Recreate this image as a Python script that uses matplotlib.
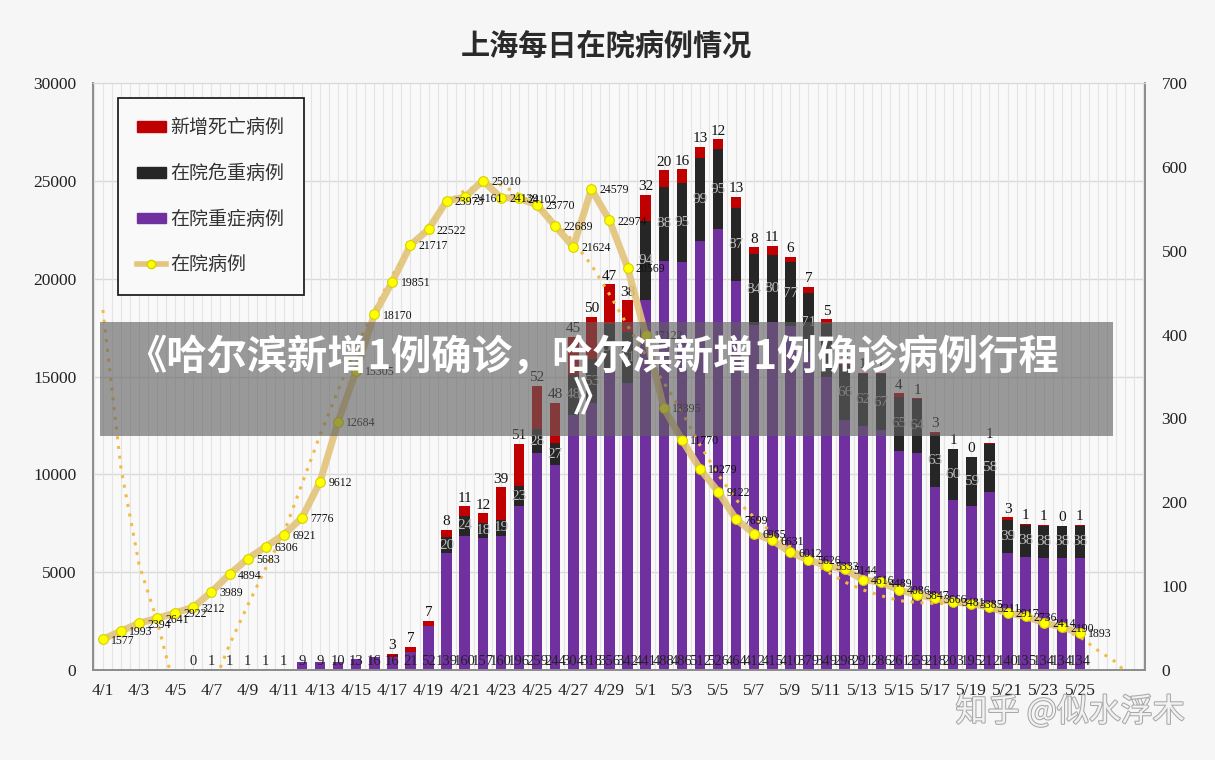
import numpy as np
import matplotlib.pyplot as plt
import matplotlib.patheffects as pe
from matplotlib.patches import Patch, Rectangle
from matplotlib.lines import Line2D

plt.rcParams['font.family'] = ['Noto Sans CJK SC', 'DejaVu Sans']
SERIF = 'Liberation Serif'
nan = np.nan

dates = [f"4/{d}" for d in range(1, 31)] + [f"5/{d}" for d in range(1, 26)]

# 在院病例 (left axis)
inpatients = [1577, 1993, 2394, 2641, 2922, 3212, 3989, 4894, 5683, 6306,
              6921, 7776, 9612, 12684, 15305, 18170, 19851, 21717, 22522, 23973,
              24161, 25010, 24139, 24102, 23770, 22689, 21624, 24579, 22974, 20569,
              17122, 13395, 11770, 10279, 9122, 7699, 6965, 6631, 6012, 5626,
              5333, 5144, 4616, 4489, 4086, 3847, 3666, 3481, 3385, 3211,
              2917, 2736, 2414, 2190, 1893]

# dotted trend line (4/1 .. 5/28)
trend = [18400, 10300, 5400, 2500, -1100, -1800, -1000, 1300, 3300, 5200,
         7000, 9500, 12000, 14300, 16500, 18400, 20200, 21600, 22700, 23900,
         24500, 24800, 24800, 24300, 23700, 22900, 21900, 20700, 19200, 17600,
         16100, 14700, 13200, 11500, 10000, 8700, 7800, 7000, 6300, 5600,
         5050, 4500, 4100, 3800, 3550, 3450, 3400, 3400, 3350, 3250,
         3100, 2850, 2500, 2050, 1700, 1000, 400, -600]

# 在院重症病例 (right axis)
severe = [nan] * 5 + [0, 1, 1, 1, 1, 1, 9, 9, 10, 13, 16, 16, 21, 52,
                      139, 160, 157, 160, 196, 259, 244, 304, 318, 356, 342,
                      441, 488, 486, 512, 526, 464, 412, 415, 410, 379,
                      349, 298, 291, 286, 261, 259, 218, 203, 195, 212,
                      140, 135, 134, 134, 134]
# 在院危重病例
critical = [nan] * 5 + [0] * 14 + [20, 24, 18, 19, 23, 28, 27, 48, 53, 57, 61,
                                    94, 88, 95, 99, 95, 87, 84, 80, 77, 71,
                                    64, 66, 62, 67, 65, 64, 63, 60, 59, 58,
                                    39, 38, 38, 38, 38]
# 新增死亡病例
deaths = [nan] * 16 + [3, 7, 7,
                       8, 11, 12, 39, 51, 52, 48, 45, 50, 47, 38,
                       32, 20, 16, 13, 12, 13, 8, 11, 6, 7,
                       5, 2, 1, 1, 4, 1, 3, 1, 0, 1,
                       3, 1, 1, 0, 1]

PURPLE = '#7030a0'
DARK = '#262626'
RED = '#c00000'
GOLD = '#e2c47a'

x = np.arange(len(dates))
sev = np.array(severe, dtype=float)
cri = np.array(critical, dtype=float)
dth = np.array(deaths, dtype=float)
sev0 = np.nan_to_num(sev)
cri0 = np.nan_to_num(cri)
dth0 = np.nan_to_num(dth)

fig = plt.figure(figsize=(12.15, 7.6), dpi=100, facecolor='#f6f6f6')
ax = fig.add_axes([0.0765, 0.1184, 0.8659, 0.7724], facecolor='#f9f9f9')
ax2 = ax.twinx()

# bars on the right-hand scale
ax.set_ylim(0, 700)
ax.set_xlim(-0.55, 57.6)
for k in range(1, 6):
    ax.axhline(700 * k / 6, color='#d9d9d9', lw=1, zorder=0)
for v in np.arange(-0.5, 57.6, 0.5):
    ax.axvline(v, color='#e4e4e4', lw=0.8, zorder=0)

w = 0.58
has = ~np.isnan(sev)
ax.bar(x[has], sev0[has], w, color=PURPLE, zorder=2)
ax.bar(x[has], cri0[has], w, bottom=sev0[has], color=DARK, zorder=2)
hd = ~np.isnan(dth)
ax.bar(x[hd], dth0[hd], w, bottom=(sev0 + cri0)[hd], color=RED, zorder=2)

for i in x:
    if not np.isnan(sev[i]):
        ax.text(i, 3, f"{int(sev[i])}", ha='center', va='bottom', fontsize=10.5,
                family=SERIF, color='#222222', zorder=4)
    if not np.isnan(cri[i]) and cri[i] >= 15:
        ax.text(i, sev0[i] + cri[i] / 2, f"{int(cri[i])}", ha='center', va='center',
                fontsize=11, family=SERIF, color='#bdbdbd', zorder=4)
    if not np.isnan(dth[i]):
        ax.text(i, sev0[i] + cri0[i] + dth[i] + 2, f"{int(dth[i])}", ha='center',
                va='bottom', fontsize=11, family=SERIF, color='#111111', zorder=4)

ax.yaxis.tick_right()
ax.set_yticks(range(0, 701, 100))
ax.tick_params(axis='y', length=0, pad=12, labelsize=12.5, labelcolor='#222222')
ax.set_xticks(x[::2])
ax.set_xticklabels(dates[::2])
ax.tick_params(axis='x', length=0, pad=9, labelsize=12.5, labelcolor='#222222')
for lab in ax.get_xticklabels() + ax.get_yticklabels():
    lab.set_family(SERIF)

# in-hospital line on the left-hand scale
ax2.set_ylim(0, 30000)
ax2.yaxis.tick_left()
ax2.set_yticks(range(0, 30001, 5000))
ax2.tick_params(axis='y', length=0, pad=12, labelsize=12.5, labelcolor='#222222')
for lab in ax2.get_yticklabels():
    lab.set_family(SERIF)

ax2.plot(np.arange(len(trend)), trend, ls=(0, (1, 2.2)), color='#f2bb45', lw=2.2, zorder=3)
ax2.plot(x, inpatients, color=GOLD, lw=5, alpha=0.9, solid_capstyle='round', zorder=4)
ax2.plot(x, inpatients, ls='none', marker='o', ms=7, mfc='#ffff00', mec='#d6d000',
         mew=0.8, zorder=5)
for i, v in zip(x, inpatients):
    ax2.annotate(f"{v}", (i, v), xytext=(6, -1), textcoords='offset points',
                 ha='left', va='center', fontsize=8.5, family=SERIF, color='#111111',
                 zorder=6)

for a in (ax, ax2):
    for s in ('left', 'right', 'bottom'):
        a.spines[s].set_color('#8c8c8c')
        a.spines[s].set_linewidth(1.2)
    a.spines['top'].set_color('#d9d9d9')

handles = [Patch(color=RED), Patch(color=DARK), Patch(color=PURPLE),
           Line2D([0], [0], color=GOLD, lw=4, marker='o', ms=6, mfc='#ffff00', mec='#d6d000')]
labels = ['新增死亡病例', '在院危重病例', '在院重症病例', '在院病例']
leg = ax2.legend(handles, labels, loc='upper left', bbox_to_anchor=(0.024, 0.974),
                 fontsize=13.7, frameon=True, fancybox=False, edgecolor='#222222',
                 facecolor='#f9f9f9', framealpha=1, borderpad=1.0, labelspacing=1.3,
                 handlelength=1.5, handleheight=0.5, handletextpad=0.25, borderaxespad=0)
leg.get_frame().set_linewidth(1.3)
for t in leg.get_texts():
    t.set_color('#333333')

fig.text(0.499, 1 - 46 / 760, '上海每日在院病例情况', ha='center', va='center',
         fontsize=21, fontweight='bold', color='#2a2a2a')

# overlay banner
fig.add_artist(Rectangle((100 / 1215, 1 - 436 / 760), 1013 / 1215, 114 / 760,
                         transform=fig.transFigure, facecolor='#5f5f5f', alpha=0.62,
                         edgecolor='none', zorder=10))
fig.text(0.488, 1 - 378 / 760, '《哈尔滨新增1例确诊，哈尔滨新增1例确诊病例行程\n》',
         ha='center', va='center', fontsize=29, fontweight='bold', color='white',
         linespacing=1.05, zorder=11)

# watermark
fig.text(1185 / 1215, 1 - 712 / 760, '知乎 @似水浮木', ha='right', va='center',
         fontsize=23, color='#f2f2f2', zorder=11,
         path_effects=[pe.withStroke(linewidth=1.5, foreground='#a8a8a8')])

plt.savefig('out.png', dpi=100, facecolor=fig.get_facecolor())
